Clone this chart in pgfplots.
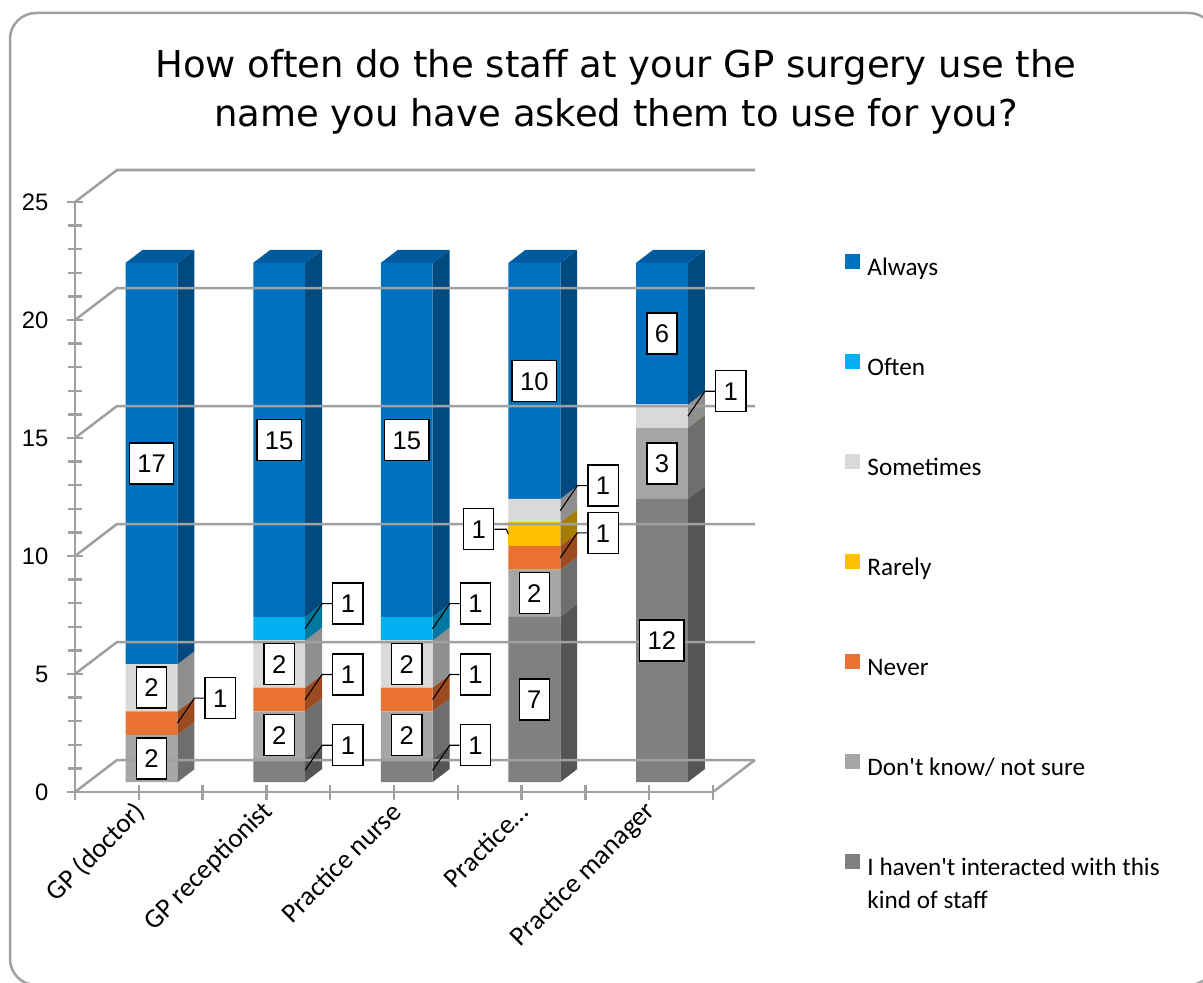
\documentclass[border=0pt]{standalone}
\usepackage{fontspec}
\setmainfont{Carlito}
\newfontfamily\arialf{Liberation Sans}
\newfontfamily\titlef{DejaVu Sans}
\usepackage{pgfplots}
\usepackage{pgfplotstable}
\pgfplotsset{compat=1.18}

\definecolor{cA}{HTML}{0070C0}\definecolor{sideA}{HTML}{004A80}\definecolor{topA}{HTML}{005A9E}
\definecolor{cO}{HTML}{00B0F0}\definecolor{sideO}{HTML}{00779F}
\definecolor{cS}{HTML}{D9D9D9}\definecolor{sideS}{HTML}{8F8F8F}
\definecolor{cR}{HTML}{FFC000}\definecolor{sideR}{HTML}{A67D00}
\definecolor{cN}{HTML}{E97132}\definecolor{sideN}{HTML}{9C4A1F}
\definecolor{cD}{HTML}{A6A6A6}\definecolor{sideD}{HTML}{6E6E6E}
\definecolor{cH}{HTML}{808080}\definecolor{sideH}{HTML}{555555}
\definecolor{gridgray}{HTML}{A0A0A0}

% x = bar centre (category centre + depth offset), lift = depth offset of bar base
\pgfplotstableread{
x   lift H  D N R S O A
0.6 0.42 0  2 1 0 2 0 17
1.6 0.42 1  2 1 0 2 1 15
2.6 0.42 1  2 1 0 2 1 15
3.6 0.42 7  2 1 1 1 0 10
4.6 0.42 12 3 0 0 1 0 6
}\data

\tikzset{lbl/.style={draw=black, fill=white, line width=0.7pt,
  font=\arialf\fontsize{12.8}{15}\selectfont, inner xsep=4pt, inner ysep=5.6pt,
  text height=9.2pt, text depth=0pt, minimum height=20.5pt}}

\gdef\lablist{}

\begin{document}
\begin{tikzpicture}
\useasboundingbox (0,0) rectangle (601.5pt,-491.5pt);
\draw[gridgray, line width=1.25pt, rounded corners=13pt] (5pt,-6.5pt) rectangle (607.5pt,-492.5pt);
\node[anchor=base, font=\titlef\fontsize{18.5}{22}\selectfont] at (308pt,-39pt) {How often do the staff at your GP surgery use the};
\node[anchor=base, font=\titlef\fontsize{18.5}{22}\selectfont] at (308pt,-63.5pt) {name you have asked them to use for you?};

\begin{axis}[
  at={(37.5pt,-396pt)}, anchor=south west,
  width=319pt, height=295pt, scale only axis,
  xmin=0, xmax=5, ymin=0, ymax=25, enlargelimits=false,
  clip=false,
  axis x line=bottom, axis y line=left,
  axis line style={-, draw=gridgray, line width=1.25pt},
  ybar stacked, bar width=0.406,
  xtick={0,0.5,1,1.5,2,2.5,3,3.5,4,4.5,5},
  xticklabels={,GP (doctor),,GP receptionist,,Practice nurse,,Practice…,,Practice manager,},
  ytick={0,5,10,15,20,25},
  minor y tick num=4,
  tick style={draw=gridgray, line width=1.25pt},
  major tick length=7.5pt, minor tick length=7pt, tick align=center,
  /pgf/number format/assume math mode=true,
  yticklabel style={font=\arialf\fontsize{11.9}{14}\selectfont, text=black, xshift=-6pt},
  xticklabel style={font=\fontsize{13.6}{15}\selectfont, text=black, shift={(3.5pt,-1.5pt)}, rotate=45, anchor=east},
  legend style={at={(axis description cs:1.207,0.9119)}, anchor=north west,
    draw=none, fill=none, inner sep=0pt, row sep=36.5pt, column sep=3.5pt,
    font=\fontsize{12.6}{15}\selectfont,
    nodes={inner sep=0pt, text height=9pt, text depth=3pt}},
  legend cell align=left,
  reverse legend,
  legend image code/.code={\fill[#1] (0pt,0pt) rectangle (7.5pt,7.5pt);},
]
% 3-D frame: slanted lines to the back wall and back-wall gridlines
\pgfplotsextra{
  \foreach \k in {0,5,10,15,20,25}{
    \pgfmathsetmacro\kb{\k+1.356}
    \draw[gridgray, line width=1.25pt] (axis cs:0,\k) -- (axis cs:0.329,\kb) -- (axis cs:5.329,\kb);
  }
  \draw[gridgray, line width=1.25pt] (axis cs:5,0) -- (axis cs:5.329,1.356);
}
\addplot[draw=none, fill=none, forget plot] table[x=x, y=lift]{\data};
\addplot[fill=cH, draw=none] table[x=x, y=H]{\data};
\addlegendentry{\begin{tabular}[t]{@{}l@{}}I haven\textquotesingle t interacted with this\\[1.6pt]kind of staff\end{tabular}}
\addplot[fill=cD, draw=none] table[x=x, y=D]{\data};
\addlegendentry{Don\textquotesingle t know/ not sure}
\addplot[fill=cN, draw=none] table[x=x, y=N]{\data};
\addlegendentry{Never}
\addplot[fill=cR, draw=none] table[x=x, y=R]{\data};
\addlegendentry{Rarely}
\addplot[fill=cS, draw=none] table[x=x, y=S]{\data};
\addlegendentry{Sometimes}
\addplot[fill=cO, draw=none] table[x=x, y=O]{\data};
\addlegendentry{Often}
\addplot[fill=cA, draw=none] table[x=x, y=A]{\data};
\addlegendentry{Always}
% side faces, top faces; anchor points of the data labels
\pgfplotsextra{
  \def\rr{R}
  \foreach \r in {0,...,4}{
    \pgfplotstablegetelem{\r}{x}\of\data \edef\xc{\pgfplotsretval}
    \pgfmathsetmacro\xl{\xc-0.203}
    \pgfmathsetmacro\xr{\xc+0.203}
    \pgfmathsetmacro\xrb{\xr+0.133}
    \pgfmathsetmacro\xlb{\xl+0.133}
    \pgfplotstablegetelem{\r}{lift}\of\data
    \xdef\cum{\pgfplotsretval}
    \foreach \c in {H,D,N,R,S,O,A}{
      \pgfplotstablegetelem{\r}{\c}\of\data
      \edef\v{\pgfplotsretval}
      \pgfmathsetmacro\tp{\cum+\v}
      \pgfmathsetmacro\cb{\cum+0.55}
      \pgfmathsetmacro\tb{\tp+0.55}
      \pgfmathsetmacro\md{\cum+\v/2}
      \fill[side\c] (axis cs:\xr,\cum) -- (axis cs:\xrb,\cb) -- (axis cs:\xrb,\tb) -- (axis cs:\xr,\tp) -- cycle;
      \edef\cc{\c}
      \ifdim\v pt>1.5pt
        \coordinate (p\r\c) at (axis cs:\xc,\md);
        \xdef\lablist{\ifx\lablist\empty\else\lablist,\fi p\r\c/\v/0}
      \else\ifdim\v pt=1pt
        \ifx\cc\rr
          \coordinate (p\r\c) at (axis cs:\xl,\md);
          \xdef\lablist{\ifx\lablist\empty\else\lablist,\fi p\r\c/\v/2}
        \else
          \coordinate (p\r\c) at (axis cs:\xr,\md);
          \xdef\lablist{\ifx\lablist\empty\else\lablist,\fi p\r\c/\v/1}
        \fi
      \fi\fi
      \xdef\cum{\tp}
    }
    \pgfmathsetmacro\tb{\cum+0.55}
    \fill[topA] (axis cs:\xl,\cum) -- (axis cs:\xlb,\tb) -- (axis cs:\xrb,\tb) -- (axis cs:\xr,\cum) -- cycle;
  }
}
\end{axis}
% data labels, drawn over the bars
\foreach \nm/\val/\kd in \lablist {
  \ifcase\kd
    \node[lbl] at (\nm) {\val};
  \or
    \draw[black, line width=0.55pt] (\nm) -- ++(8.5pt,12.5pt) -- ++(5pt,0pt) node[lbl, anchor=west] {\val};
  \or
    \draw[black, line width=0.55pt] (\nm) -- ++(-1pt,2.5pt) -- ++(-6pt,0pt) node[lbl, anchor=east] {\val};
  \fi
}
\end{tikzpicture}
\end{document}
